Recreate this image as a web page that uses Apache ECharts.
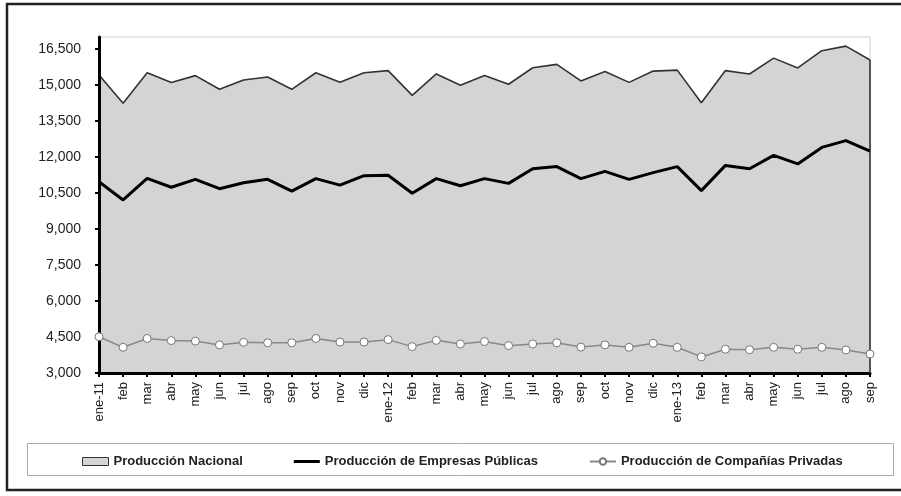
<!DOCTYPE html>
<html>
<head>
<meta charset="utf-8">
<script src="https://cdn.jsdelivr.net/npm/echarts@6/dist/echarts.min.js"></script>
<style>
html,body{margin:0;padding:0;background:#fff;}
#c{width:901px;height:496px;}
</style>
</head>
<body>
<div id="c"></div>
<script>
const categories = ['ene-11','feb','mar','abr','may','jun','jul','ago','sep','oct','nov','dic',
  'ene-12','feb','mar','abr','may','jun','jul','ago','sep','oct','nov','dic',
  'ene-13','feb','mar','abr','may','jun','jul','ago','sep'];
const nacional = [15420,14240,15510,15100,15390,14820,15210,15330,14820,15510,15110,15510,
  15600,14570,15460,14990,15400,15030,15720,15860,15170,15560,15110,15580,
  15620,14260,15600,15460,16120,15710,16430,16620,16040];
const publicas = [10970,10210,11110,10740,11070,10680,10930,11070,10580,11100,10830,11220,
  11240,10490,11100,10800,11100,10900,11510,11600,11100,11400,11070,11350,
  11600,10600,11650,11510,12070,11710,12400,12680,12240];
const privadas = [4510,4070,4440,4350,4330,4170,4280,4260,4260,4440,4290,4290,
  4390,4100,4360,4210,4310,4140,4210,4260,4080,4170,4070,4240,
  4070,3670,3990,3970,4070,3990,4070,3960,3790];
const yTicks = [3000,4500,6000,7500,9000,10500,12000,13500,15000,16500];
const seriesNames = ['Producción Nacional','Producción de Empresas Públicas','Producción de Compañías Privadas'];
const yMin = 3000, yMax = 17000, yStep = 1500;

const chart = echarts.init(document.getElementById('c'), null, {renderer:'canvas'});
const font = '"Liberation Sans", Arial, sans-serif';
chart.setOption({
  animation:false,
  backgroundColor:'#fff',
  textStyle:{fontFamily:font},
  graphic:[
    {type:'rect', shape:{x:7, y:4, width:905, height:486}, style:{fill:null, stroke:'#222', lineWidth:2.5}, z:-10},
    {type:'rect', shape:{x:27.5, y:443.5, width:866, height:32}, style:{fill:null, stroke:'#aaa', lineWidth:1}, z:-10}
  ],
  grid:{left:99, right:31, top:37, bottom:123, show:true, borderColor:'#d0d0d0', borderWidth:1, backgroundColor:'transparent'},
  legend:{
    left:82, top:455, itemGap:51, itemWidth:26, itemHeight:8, padding:0,
    textStyle:{fontFamily:font, fontSize:13, fontWeight:'bold', color:'#222'},
    data:[
      {name:seriesNames[0], icon:'rect', itemStyle:{color:'#d3d4d6', borderColor:'#333', borderWidth:1}},
      {name:seriesNames[1], icon:'path://M0,0 L26,0 L26,3 L0,3 Z', itemStyle:{color:'#000', borderWidth:0}},
      {name:seriesNames[2]}
    ]
  },
  xAxis:{
    type:'category', data:categories, boundaryGap:false, z:4,
    axisLine:{lineStyle:{color:'#000', width:3}},
    axisTick:{show:true, length:4, lineStyle:{color:'#000', width:2}, interval:0},
    axisLabel:{rotate:90, interval:0, margin:9, fontSize:13, color:'#222', fontFamily:font},
    splitLine:{show:false}
  },
  yAxis:{
    type:'value', min:yMin, max:yMax, interval:yStep, z:4,
    axisLine:{show:true, lineStyle:{color:'#000', width:3}},
    axisTick:{show:true, length:4, lineStyle:{color:'#000', width:2}, customValues:yTicks},
    axisLabel:{margin:18, fontSize:14, color:'#222', fontFamily:font, customValues:yTicks},
    splitLine:{show:false}
  },
  series:[
    {name:seriesNames[0], type:'line', data:nacional, symbol:'none', z:1,
     lineStyle:{color:'#333', width:1.6},
     itemStyle:{color:'#d3d4d6'},
     areaStyle:{color:'#d3d4d6', opacity:1, origin:'start'},
     markLine:{silent:true, symbol:'none', label:{show:false},
       lineStyle:{color:'#333', width:1.6, type:'solid'},
       data:[[{coord:[categories.length-1, yMin]},{coord:[categories.length-1, nacional[nacional.length-1]]}]]}
    },
    {name:seriesNames[1], type:'line', data:publicas, symbol:'none', z:5,
     lineStyle:{color:'#000', width:3}, itemStyle:{color:'#000'}},
    {name:seriesNames[2], type:'line', data:privadas, symbol:'circle', symbolSize:8, z:6,
     lineStyle:{color:'#888', width:1.5},
     itemStyle:{color:'#fff', borderColor:'#777', borderWidth:1}}
  ]
});
</script>
</body>
</html>
